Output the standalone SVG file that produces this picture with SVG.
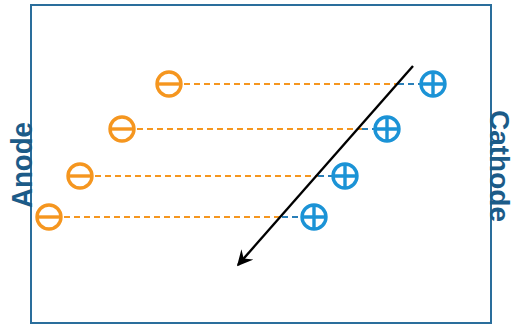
<svg xmlns="http://www.w3.org/2000/svg" width="514" height="325" viewBox="0 0 514 325">
<defs>
<style>
.lbl{font-family:"Liberation Sans",Arial,sans-serif;font-weight:bold;font-size:29px;fill:#1c5b88}
.neg{fill:none;stroke:#f5961f;stroke-width:3.4}
.pos{fill:none;stroke:#1b93d6;stroke-width:3.4}
.od{stroke:#f5961f;stroke-width:2.2;stroke-dasharray:6 4}
.bd{stroke:#2a7fb8;stroke-width:2.2;stroke-dasharray:6 4}
</style>
<marker id="ah" viewBox="0 0 10 10" refX="9" refY="5" markerWidth="6.5" markerHeight="6.5" orient="auto" markerUnits="strokeWidth">
<path d="M0,0 L10,5 L0,10 L3.5,5 z" fill="#000"/>
</marker>
</defs>
<rect x="0" y="0" width="514" height="325" fill="#fff"/>
<rect x="31" y="5" width="460" height="318" fill="none" stroke="#2a6e9c" stroke-width="2"/>
<text class="lbl" transform="translate(32,165) rotate(-90)" text-anchor="middle" textLength="86" lengthAdjust="spacingAndGlyphs">Anode</text>
<text class="lbl" transform="translate(489.5,166) rotate(90)" text-anchor="middle" textLength="112" lengthAdjust="spacingAndGlyphs" style="font-size:27px">Cathode</text>
<g id="connectors">
<line class="od" x1="184" y1="84" x2="398" y2="84"/>
<line class="bd" x1="398" y1="84" x2="420" y2="84"/>
<line class="od" x1="137" y1="129" x2="362" y2="129"/>
<line class="bd" x1="362" y1="129" x2="374" y2="129"/>
<line class="od" x1="95" y1="176" x2="318" y2="176"/>
<line class="bd" x1="318" y1="176" x2="332" y2="176"/>
<line class="od" x1="64" y1="217" x2="282" y2="217"/>
<line class="bd" x1="282" y1="217" x2="300" y2="217"/>
<line x1="413" y1="66" x2="238" y2="265" stroke="#000" stroke-width="2.4" marker-end="url(#ah)"/>
</g>
<g id="neg1"><circle class="neg" cx="169" cy="84" r="12"/><line class="neg" x1="157" y1="84" x2="181" y2="84"/></g>
<g id="neg2"><circle class="neg" cx="122" cy="129" r="12"/><line class="neg" x1="110" y1="129" x2="134" y2="129"/></g>
<g id="neg3"><circle class="neg" cx="80" cy="176" r="12"/><line class="neg" x1="68" y1="176" x2="92" y2="176"/></g>
<g id="neg4"><circle class="neg" cx="49" cy="217" r="12"/><line class="neg" x1="37" y1="217" x2="61" y2="217"/></g>
<g id="pos1"><circle class="pos" cx="433" cy="84" r="12"/><path class="pos" d="M421,84H445M433,72V96"/></g>
<g id="pos2"><circle class="pos" cx="387" cy="129" r="12"/><path class="pos" d="M375,129H399M387,117V141"/></g>
<g id="pos3"><circle class="pos" cx="345" cy="176" r="12"/><path class="pos" d="M333,176H357M345,164V188"/></g>
<g id="pos4"><circle class="pos" cx="314" cy="217" r="12"/><path class="pos" d="M302,217H326M314,205V229"/></g>
</svg>
